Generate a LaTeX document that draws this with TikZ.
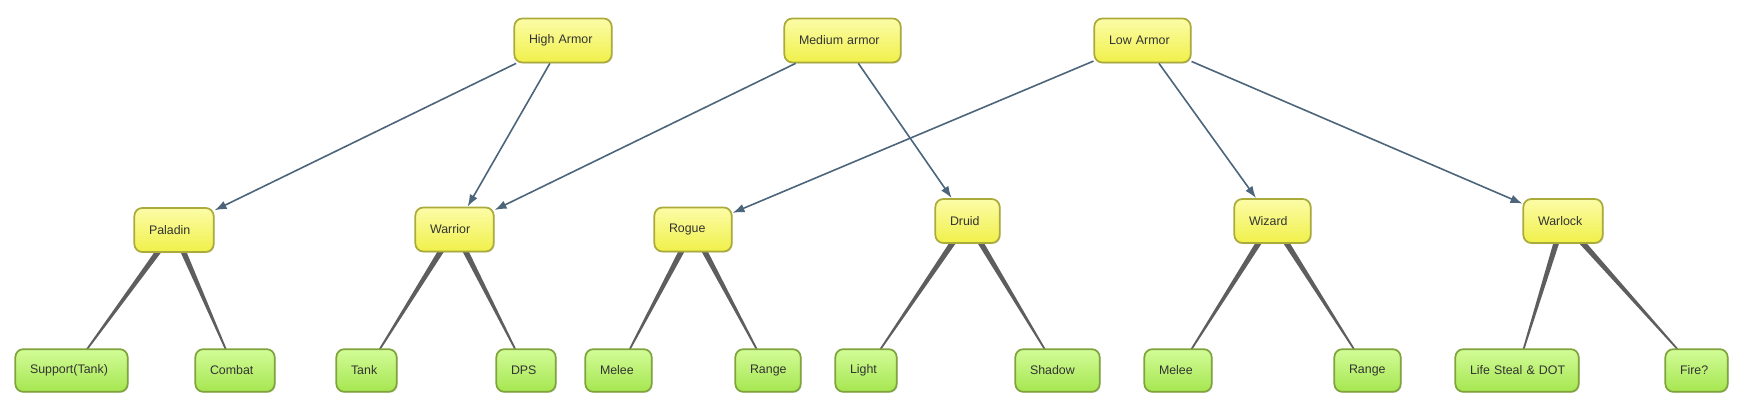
\documentclass[tikz,border=0pt]{standalone}
\usepackage{fontspec}
\setmainfont{Liberation Sans}
\usepackage{tikz}
\usetikzlibrary{shadows}
\usetikzlibrary{arrows.meta}
\usetikzlibrary{calc,backgrounds}
\definecolor{armortop}{HTML}{FCFCA8}
\definecolor{armorbot}{HTML}{F0F04A}
\definecolor{armorline}{HTML}{ABAB3C}
\definecolor{spectop}{HTML}{D2FC98}
\definecolor{specbot}{HTML}{A6E650}
\definecolor{specline}{HTML}{7FA43C}
\definecolor{arrowline}{HTML}{4C657A}
\definecolor{taperline}{HTML}{5E5E5E}
\tikzstyle{box}=[rectangle,rounded corners=6pt,line width=1.3pt,inner xsep=11pt,inner ysep=0pt,align=left,text=black!80,font=\fontsize{9.3}{11}\selectfont,drop shadow={opacity=0.25,shadow xshift=0.8pt,shadow yshift=-0.8pt}]
\tikzstyle{armor}=[box,draw=armorline,top color=armortop,bottom color=armorbot,minimum height=33pt]
\tikzstyle{spec}=[box,draw=specline,top color=spectop,bottom color=specbot,minimum height=32pt]
\tikzstyle{edge}=[draw,line width=1.2pt,arrowline,-{Latex[length=9pt,width=6.5pt]}]
\tikzstyle{taper}=[fill=taperline]

\begin{document}
\begin{tikzpicture}[x=0.75pt,y=-0.75pt]
    \useasboundingbox (0,0) rectangle (1739,402);
    % First we draw the armor classes
    \foreach \pos/\name/\w/\txt in {{(563,40.5)/high/100/High Armor},{(842.5,40.5)/medium/119/Medium armor},{(1142.5,40.5)/low/99/Low Armor}}
    {
        \pgfmathsetmacro\tw{(\w-32)*0.75}
        \node[armor,text width=\tw pt] (\name) at \pos {\mbox{\txt}};
    }

    % then the character classes
    \foreach \pos/\name/\w/\txt in {{(174,230)/paladin/82/Paladin},{(454.5,229.5)/warrior/81/Warrior},{(693,229.5)/rogue/80/Rogue},{(967.5,221)/druid/67/Druid},{(1272.5,221)/wizard/79/Wizard},{(1563,221)/warlock/82/Warlock}}
    {
        \pgfmathsetmacro\tw{(\w-32)*0.75}
        \node[armor,text width=\tw pt] (\name) at \pos {\mbox{\txt}};
    }

    % and the specs at the bottom
    \foreach \pos/\name/\w/\txt in {{(71.5,370.5)/support/115/Support(Tank)},{(235,370.5)/combat/82/Combat},{(366.5,370.5)/tank/63/Tank},{(526,370.5)/dps/62/DPS},{(618.5,370.5)/rmelee/69/Melee},{(768,370.5)/rrange/68/Range},{(866,370.5)/light/64/Light},{(1057.5,370.5)/shadow/87/Shadow},{(1178,370.5)/wmelee/70/Melee},{(1367.5,370.5)/wrange/69/Range},{(1517,370.5)/lifesteal/126/Life Steal \& DOT},{(1696.5,370.5)/fire/65/Fire?}}
    {
        \pgfmathsetmacro\tw{(\w-32)*0.75}
        \node[spec,text width=\tw pt] (\name) at \pos {\mbox{\txt}};
    }

    % Connect armor to classes
    \foreach \source/\dest in {high/paladin,high/warrior,medium/warrior,medium/druid,low/rogue,low/wizard,low/warlock}
        \path[edge] (\source) -- (\dest);

    % Tapered links from classes to specs
    \begin{pgfonlayer}{background}
    \foreach \source/\dest in {paladin/support,paladin/combat,warrior/tank,warrior/dps,rogue/rmelee,rogue/rrange,druid/light,druid/shadow,wizard/wmelee,wizard/wrange,warlock/lifesteal,warlock/fire}
        \fill[taper] ($(\source)!2.4pt!90:(\dest)$) -- ($(\dest)!0.35pt!-90:(\source)$) -- ($(\dest)!0.35pt!90:(\source)$) -- ($(\source)!2.4pt!-90:(\dest)$) -- cycle;
    \end{pgfonlayer}
\end{tikzpicture}
\end{document}
